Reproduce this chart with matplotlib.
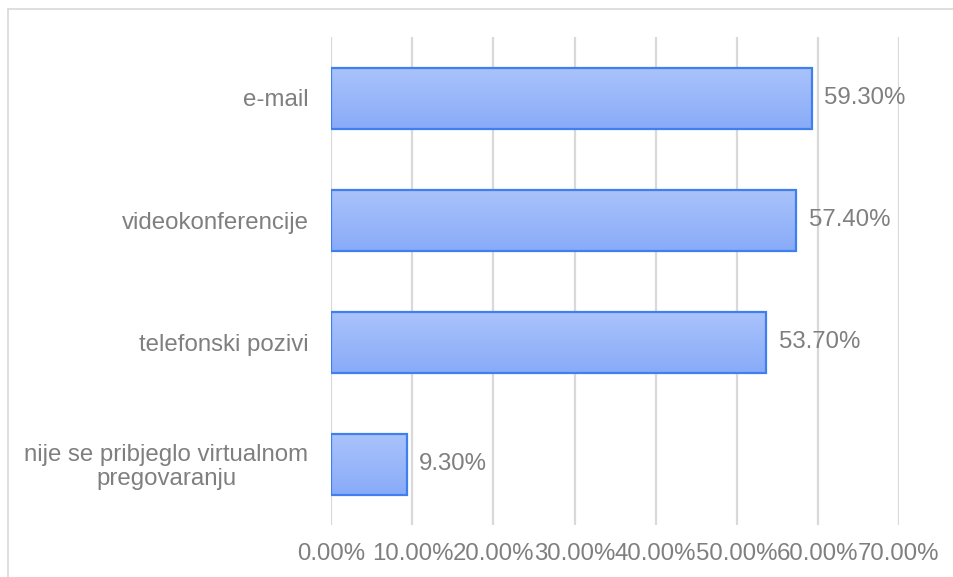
import matplotlib
matplotlib.use("Agg")
import matplotlib.pyplot as plt
import numpy as np
from matplotlib.colors import LinearSegmentedColormap
from matplotlib.lines import Line2D

categories = ["e-mail", "videokonferencije", "telefonski pozivi",
              "nije se pribjeglo virtualnom\npregovaranju"]
values = [59.3, 57.4, 53.7, 9.3]
value_labels = ["59.30%", "57.40%", "53.70%", "9.30%"]
xticks = [0, 10, 20, 30, 40, 50, 60, 70]
xtick_labels = ["0.00%", "10.00%", "20.00%", "30.00%", "40.00%", "50.00%", "60.00%", "70.00%"]

plt.rcParams['font.family'] = ['Liberation Sans', 'DejaVu Sans']
gray = '#7f7f7f'
fs = 17.3

fig = plt.figure(figsize=(9.54, 5.77), dpi=100)
ax = fig.add_axes([331.5/954, 1-525/577, (898.5-331.5)/954, (525-37)/577])

y = np.arange(len(categories))
bars = ax.barh(y, values, height=0.5, facecolor='none', edgecolor='#3f80ee',
               linewidth=1.6, zorder=3)

cmap = LinearSegmentedColormap.from_list('g', ['#aac3fb', '#89abf8'])
grad = np.linspace(0, 1, 256).reshape(-1, 1)
for b in bars:
    x0, y0 = b.get_x(), b.get_y()
    w, h = b.get_width(), b.get_height()
    ax.imshow(grad, cmap=cmap, aspect='auto', origin='upper',
              extent=(x0, x0 + w, y0 + h, y0), zorder=2, interpolation='bilinear')

for yi, v, lab in zip(y, values, value_labels):
    ax.annotate(lab, (v, yi), xytext=(9, 0), textcoords='offset points',
                ha='left', va='center', fontsize=fs, color=gray, zorder=4)

ax.set_xlim(0, 70)
ax.set_ylim(len(categories) - 0.5, -0.5)
ax.set_yticks(y)
ax.set_yticklabels(categories, fontsize=fs, color=gray, multialignment='center',
                   linespacing=1.1)
ax.set_xticks(xticks)
ax.set_xticklabels(xtick_labels, fontsize=fs, color=gray)
ax.tick_params(axis='both', length=0)
ax.tick_params(axis='x', pad=13)
ax.tick_params(axis='y', pad=16.5)
ax.grid(axis='x', color='#d9d9d9', linewidth=1.6, zorder=0)
ax.set_axisbelow(True)
for s in ax.spines.values():
    s.set_visible(False)

fig.add_artist(Line2D([8.5/954, 8.5/954], [0, 1-8.5/577], transform=fig.transFigure,
                      color='#d9d9d9', linewidth=1.2))
fig.add_artist(Line2D([8.5/954, 1], [1-8.5/577, 1-8.5/577], transform=fig.transFigure,
                      color='#d9d9d9', linewidth=1.2))

fig.savefig('out.png', dpi=100)
